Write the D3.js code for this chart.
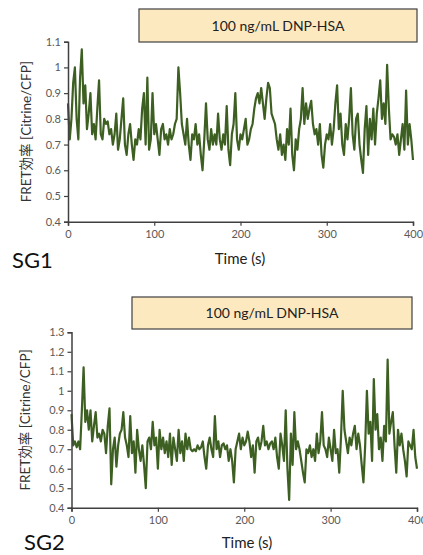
<!DOCTYPE html>
<html>
<head>
<meta charset="utf-8">
<script src="https://cdn.jsdelivr.net/npm/d3@7"></script>
<style>
  body { margin: 0; background: #fff; }
  svg { display: block; font-family: Lato, "Noto Sans CJK JP", sans-serif; }
</style>
</head>
<body>
<script>
//data, one sample every 2 s from 0 to 400 s
var sampleStep = 2;
var sg1Values = [
  0.86,0.72,0.80,0.94,1.00,0.80,0.72,0.96,1.07,0.86,
  0.93,0.76,0.82,0.90,0.74,0.78,0.72,0.84,0.95,0.74,
  0.72,0.80,0.78,0.79,0.74,0.76,0.70,0.74,0.82,0.68,
  0.72,0.80,0.88,0.70,0.66,0.74,0.78,0.70,0.64,0.72,
  0.70,0.76,0.72,0.84,0.90,0.70,0.96,0.68,0.72,0.90,
  0.74,0.78,0.72,0.66,0.76,0.78,0.72,0.74,0.70,0.76,
  0.72,0.74,0.78,0.80,1.00,0.90,0.78,0.74,0.70,0.80,
  0.70,0.64,0.74,0.72,0.78,0.70,0.74,0.66,0.60,0.72,
  0.86,0.72,0.68,0.76,0.70,0.74,0.70,0.82,0.72,0.68,
  0.74,0.70,0.85,0.68,0.62,0.74,0.78,0.90,0.72,0.68,
  0.74,0.72,0.76,0.80,0.70,0.72,0.76,0.78,0.84,0.88,
  0.90,0.86,0.92,0.86,0.80,0.88,0.94,0.92,0.82,0.80,
  0.78,0.72,0.68,0.74,0.66,0.70,0.64,0.76,0.70,0.84,
  0.66,0.60,0.72,0.68,0.76,0.80,0.92,0.78,0.86,0.80,
  0.84,0.87,0.78,0.74,0.76,0.70,0.78,0.66,0.61,0.70,
  0.74,0.72,0.78,0.70,0.76,0.86,0.93,0.76,0.82,0.70,
  0.66,0.78,0.72,0.80,0.92,0.74,0.68,0.80,0.82,0.70,
  0.64,0.59,0.76,0.85,0.66,0.80,0.72,0.84,0.70,0.82,
  0.88,0.95,0.80,0.86,0.78,1.01,0.84,0.72,0.74,0.73,
  0.70,0.74,0.66,0.72,0.78,0.68,0.91,0.70,0.78,0.72,
  0.64
];
var sg2Values = [
  0.88,0.72,0.74,0.71,0.74,0.70,0.90,1.12,0.84,0.90,
  0.80,0.90,0.74,0.82,0.89,0.76,0.78,0.74,0.80,0.78,
  0.68,0.82,0.91,0.52,0.70,0.76,0.61,0.72,0.78,0.80,
  0.89,0.76,0.72,0.66,0.87,0.68,0.74,0.58,0.80,0.70,
  0.64,0.72,0.62,0.50,0.74,0.76,0.70,0.84,0.72,0.76,
  0.60,0.80,0.70,0.76,0.68,0.74,0.66,0.78,0.62,0.76,
  0.70,0.64,0.80,0.68,0.74,0.64,0.78,0.70,0.76,0.70,
  0.69,0.70,0.69,0.72,0.70,0.71,0.74,0.66,0.60,0.72,
  0.76,0.70,0.66,0.87,0.70,0.74,0.66,0.72,0.73,0.70,
  0.72,0.64,0.70,0.64,0.53,0.70,0.74,0.78,0.70,0.76,
  0.72,0.74,0.79,0.74,0.66,0.72,0.58,0.74,0.76,0.70,
  0.74,0.82,0.72,0.74,0.70,0.73,0.74,0.70,0.76,0.66,
  0.60,0.78,0.72,0.64,0.90,0.60,0.44,0.78,0.62,0.89,
  0.70,0.74,0.70,0.64,0.58,0.53,0.70,0.68,0.72,0.66,
  0.70,0.64,0.78,0.68,0.74,0.89,0.72,0.70,0.66,0.76,
  0.70,0.64,0.80,0.68,0.70,0.58,0.76,1.00,0.80,0.74,
  0.68,0.76,0.72,0.78,0.82,0.70,0.78,0.72,0.62,0.53,
  0.72,1.00,0.78,0.84,0.64,1.06,0.80,0.88,0.70,0.76,
  0.64,0.82,0.74,1.16,0.78,0.84,0.89,0.72,0.58,0.80,
  0.72,0.78,0.70,0.64,0.56,0.74,0.72,0.70,0.80,0.66,
  0.60
];
var xTicks = [0, 100, 200, 300, 400];
var sg1YTicks = [0.4, 0.5, 0.6, 0.7, 0.8, 0.9, 1, 1.1];
var sg2YTicks = [0.4, 0.5, 0.6, 0.7, 0.8, 0.9, 1, 1.1, 1.2, 1.3];
var stimulusLabel = "100 ng/mL DNP-HSA";
var yLabel = "FRET効率 [Citrine/CFP]";
var xLabel = "Time (s)";

//colours
var line_colour = "#3d6022";
var axis_colour = "#404040";
var tick_text_colour = "#595959";
var box_fill = "#fde9c0";

var svg = d3.select("body").append("svg")
    .attr("width", 423)
    .attr("height", 555);

//draws one panel
function drawPanel(opts) {
    var x = d3.scaleLinear().domain([0, 400]).range([opts.left, opts.right]);
    var y = d3.scaleLinear().domain([0.4, opts.yMax]).range([opts.bottom, opts.top]);
    var g = svg.append("g");

    //stimulus box
    g.append("rect")
        .attr("x", opts.box[0]).attr("y", opts.box[1])
        .attr("width", opts.box[2] - opts.box[0]).attr("height", opts.box[3] - opts.box[1])
        .attr("fill", box_fill).attr("stroke", axis_colour).attr("stroke-width", 1.2);
    g.append("text")
        .attr("x", (opts.box[0] + opts.box[2]) / 2)
        .attr("y", (opts.box[1] + opts.box[3]) / 2 + 5)
        .attr("text-anchor", "middle")
        .attr("font-size", 14)
        .attr("fill", "#222")
        .text(stimulusLabel);

    //the trace
    var line = d3.line()
        .x(function (d, i) { return x(i * sampleStep) })
        .y(function (d) { return y(d) });
    g.append("path")
        .datum(opts.values)
        .attr("d", line)
        .attr("fill", "none")
        .attr("stroke", line_colour)
        .attr("stroke-width", 2.2)
        .attr("stroke-linejoin", "round");

    //axes
    var yAxis = g.append("g")
        .attr("transform", "translate(" + opts.left + ",0)")
        .call(d3.axisLeft(y).tickValues(opts.yTicks).tickSize(4).tickPadding(3)
            .tickFormat(function (d) { return d3.format("")(+d.toFixed(1)) }));
    var xAxis = g.append("g")
        .attr("transform", "translate(0," + opts.bottom + ")")
        .call(d3.axisBottom(x).tickValues(xTicks).tickSize(4).tickPadding(5));
    [xAxis, yAxis].forEach(function (a) {
        a.select(".domain").attr("stroke", axis_colour).attr("stroke-width", 1.5);
        a.selectAll(".tick line").attr("stroke", axis_colour).attr("stroke-width", 1.2);
        a.selectAll(".tick text").attr("fill", tick_text_colour).attr("font-size", 11)
            .attr("font-family", "Lato, sans-serif");
    });

    //labels
    g.append("text")
        .attr("transform", "translate(" + opts.yLabelX + "," + (opts.top + opts.bottom) / 2 + ") rotate(-90)")
        .attr("text-anchor", "middle")
        .attr("font-size", 13.5)
        .attr("fill", "#333")
        .text(yLabel);
    g.append("text")
        .attr("x", opts.xLabelPos[0]).attr("y", opts.xLabelPos[1])
        .attr("text-anchor", "middle")
        .attr("font-size", 15)
        .attr("fill", "#222")
        .text(xLabel);
    g.append("text")
        .attr("x", opts.namePos[0]).attr("y", opts.namePos[1])
        .attr("font-size", 22)
        .attr("fill", "#111")
        .text(opts.name);
}

drawPanel({
    values: sg1Values, yMax: 1.1, yTicks: sg1YTicks,
    left: 68, right: 413, top: 41.7, bottom: 221.7,
    box: [139, 9, 417, 42],
    yLabelX: 31, xLabelPos: [240, 264], namePos: [12, 268], name: "SG1"
});
drawPanel({
    values: sg2Values, yMax: 1.3, yTicks: sg2YTicks,
    left: 71.5, right: 417, top: 332.3, bottom: 507.7,
    box: [132, 297, 412, 329],
    yLabelX: 30, xLabelPos: [247, 548], namePos: [24, 550], name: "SG2"
});
</script>
</body>
</html>
